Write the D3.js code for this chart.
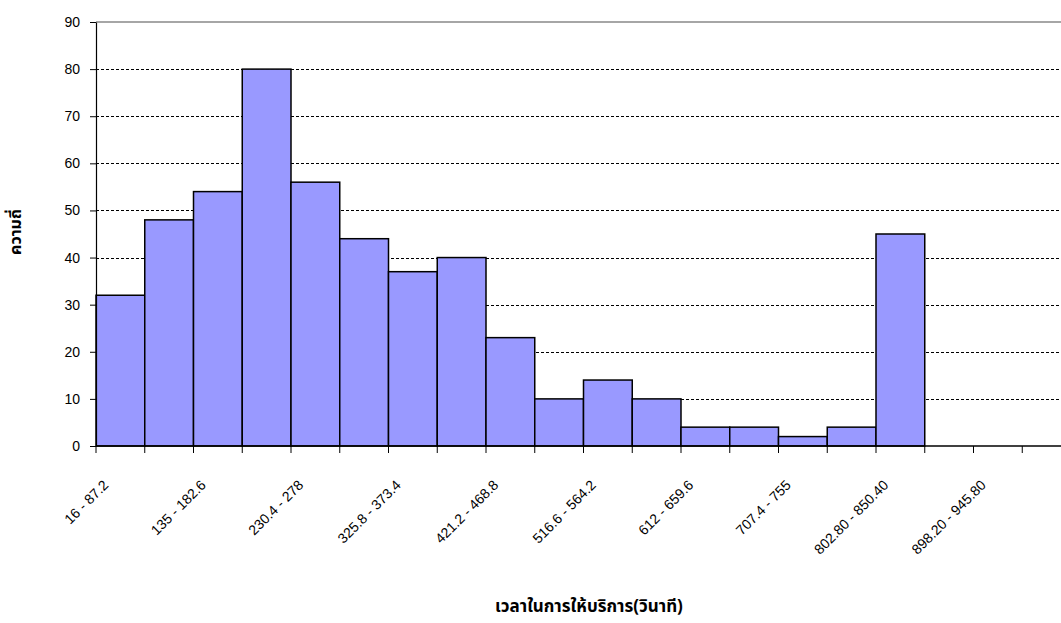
<!DOCTYPE html>
<html>
<head>
<meta charset="utf-8">
<script src="https://cdn.jsdelivr.net/npm/d3@7"></script>
<style>
  html, body { margin: 0; padding: 0; background: #fff; }
  svg { display: block; }
  .lbl { font-family: "Liberation Sans", Arial, sans-serif; fill: #000; }
  .thai { font-family: "Noto Sans Thai", Tahoma, "Noto Sans", "DejaVu Sans", sans-serif; font-weight: bold; }
</style>
</head>
<body>
<svg id="chart" width="1061" height="623"></svg>
<script>
// Service-time class intervals (seconds)
const categories = [
  "16 - 87.2", "87.2 - 135", "135 - 182.6", "182.6 - 230.4", "230.4 - 278",
  "278 - 325.8", "325.8 - 373.4", "373.4 - 421.2", "421.2 - 468.8", "468.8 - 516.6",
  "516.6 - 564.2", "564.2 - 612", "612 - 659.6", "659.6 - 707.4", "707.4 - 755",
  "755 - 802.80", "802.80 - 850.40", "850.40 - 898.20", "898.20 - 945.80", "945.80 - 993.40"
];
// Frequency of each interval
const frequencies = [32, 48, 54, 80, 56, 44, 37, 40, 23, 10, 14, 10, 4, 4, 2, 4, 45, 0, 0, 0];
const yTicks = [0, 10, 20, 30, 40, 50, 60, 70, 80, 90];
const xTitle = "เวลาในการให้บริการ(วินาที)";
const yTitle = "ความถี่";

const svg = d3.select("#chart");
const plotLeft = 96, plotRight = 1071, plotTop = 22, plotBottom = 446;

const x = d3.scaleBand().domain(categories).range([plotLeft, plotRight]).padding(0);
const y = d3.scaleLinear().domain([0, 90]).range([plotBottom, plotTop]);

// Horizontal dashed gridlines
svg.append("g").selectAll("line")
  .data(yTicks.filter(d => d > 0 && d < 90))
  .join("line")
  .attr("x1", plotLeft).attr("x2", plotRight)
  .attr("y1", d => Math.round(y(d)) + 0.5).attr("y2", d => Math.round(y(d)) + 0.5)
  .attr("stroke", "#000").attr("stroke-width", 1)
  .attr("stroke-dasharray", "3,2");

// Top border of plot area
svg.append("line")
  .attr("x1", plotLeft).attr("x2", plotRight)
  .attr("y1", y(90)).attr("y2", y(90))
  .attr("stroke", "#888").attr("stroke-width", 1.5);

// Bars
svg.append("g").selectAll("rect")
  .data(categories.map((c, i) => ({ c, v: frequencies[i] })).filter(d => d.v > 0))
  .join("rect")
  .attr("x", d => x(d.c))
  .attr("y", d => y(d.v))
  .attr("width", x.bandwidth())
  .attr("height", d => y(0) - y(d.v))
  .attr("fill", "#9999FF")
  .attr("stroke", "#000")
  .attr("stroke-width", 1.5);

// Y axis
const yAxis = svg.append("g")
  .attr("transform", `translate(${plotLeft},0)`)
  .call(d3.axisLeft(y).tickValues(yTicks).tickSize(6).tickPadding(10).tickSizeOuter(0));
yAxis.select(".domain").attr("stroke", "#000").attr("stroke-width", 1.2);
yAxis.selectAll(".tick line").attr("stroke", "#000");
yAxis.selectAll(".tick text")
  .attr("class", "lbl")
  .style("font-size", "14px")
  .attr("fill", "#000");

// X axis baseline and category-boundary ticks
const bounds = categories.map(c => x(c)).concat([plotRight]);
svg.append("line")
  .attr("x1", plotLeft).attr("x2", plotRight)
  .attr("y1", plotBottom).attr("y2", plotBottom)
  .attr("stroke", "#000").attr("stroke-width", 1.5);
svg.append("g").selectAll("line")
  .data(bounds)
  .join("line")
  .attr("x1", d => d).attr("x2", d => d)
  .attr("y1", plotBottom).attr("y2", plotBottom + 7)
  .attr("stroke", "#000").attr("stroke-width", 1);

// Rotated category labels (every second interval)
svg.append("g").selectAll("text")
  .data(categories.filter((c, i) => i % 2 === 0))
  .join("text")
  .attr("class", "lbl")
  .style("font-size", "14px")
  .attr("text-anchor", "end")
  .attr("transform", d => `translate(${x(d) + x.bandwidth() / 2 - 11},486) rotate(-45)`)
  .text(d => d);

// Axis titles
svg.append("text")
  .attr("class", "thai")
  .style("font-size", "17px")
  .attr("text-anchor", "middle")
  .attr("x", 589)
  .attr("y", 612)
  .text(xTitle);

svg.append("text")
  .attr("class", "thai")
  .style("font-size", "16px")
  .attr("text-anchor", "middle")
  .attr("transform", "translate(21,232) rotate(-90)")
  .text(yTitle);
</script>
</body>
</html>
